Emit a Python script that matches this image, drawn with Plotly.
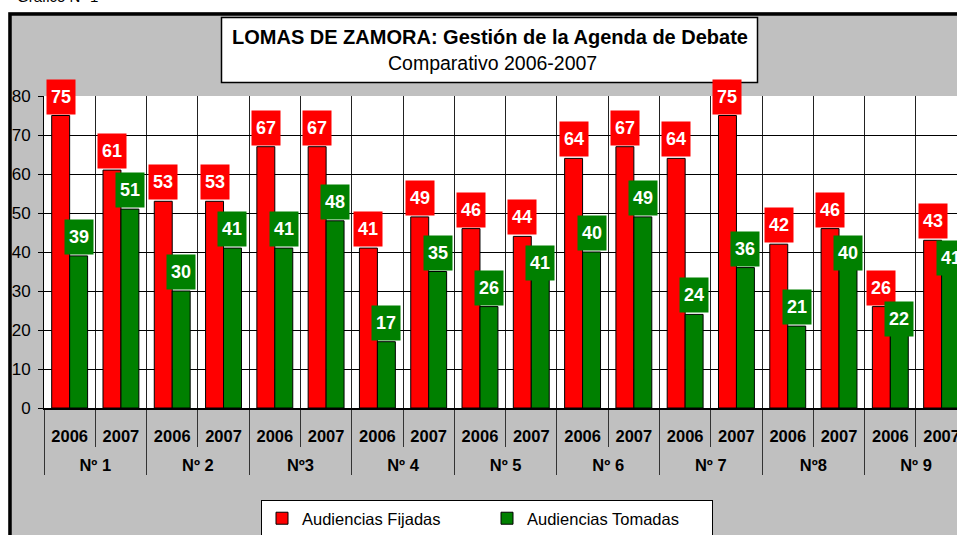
import plotly.graph_objects as go

groups = ["Nº 1", "Nº 2", "Nº3", "Nº 4", "Nº 5", "Nº 6", "Nº 7", "Nº8", "Nº 9"]
years = ["2006", "2007"]
fijadas = [75, 61, 53, 53, 67, 67, 41, 49, 46, 44, 64, 67, 64, 75, 42, 46, 26, 43]
tomadas = [39, 51, 30, 41, 41, 48, 17, 35, 26, 41, 40, 49, 24, 36, 21, 40, 22, 41]
yticks = [0, 10, 20, 30, 40, 50, 60, 70, 80]

# pixel nudges of the green value labels that were moved away from the red ones
green_label_nudge = {9: -34, 15: -20, 16: -16, 17: -29}

outer = [g for g in groups for _ in years]
inner = [y for _ in groups for y in years]
outer_txt = [" <br>" + g for g in outer]

W, H = 957, 535
L, R, T, B = 44, 0, 96, 127
PW, PH = W - L - R, H - T - B
def px2x(px):
    return (px - L) / PW
def py2y(py):
    return (H - B - py) / PH

FONT = "Liberation Sans, Arial, sans-serif"
RED, GREEN = "#FF0000", "#008000"

fig = go.Figure()
fig.add_trace(go.Bar(x=[outer_txt, inner], y=fijadas, name="Audiencias Fijadas",
                     marker=dict(color=RED, line=dict(color="black", width=1))))
fig.add_trace(go.Bar(x=[outer_txt, inner], y=tomadas, name="Audiencias Tomadas",
                     marker=dict(color=GREEN, line=dict(color="black", width=1))))

xmax = 17.3
catw = PW / (xmax + 0.5)
bargap = 0.3
off = (1 - bargap) / 4 * catw

for i, (a, b) in enumerate(zip(fijadas, tomadas)):
    for v, col, sh, ys in ((a, RED, -off, 1), (b, GREEN, off, 1 + green_label_nudge.get(i, 0))):
        fig.add_annotation(x=i, y=v, xref="x", yref="y", text=f"<b>{v}</b>",
                           showarrow=False, xshift=sh, yshift=ys, yanchor="bottom",
                           xanchor="center",
                           bgcolor=col, width=28, height=34, borderpad=0,
                           font=dict(family=FONT, size=18, color="white"))

# title
fig.add_annotation(x=px2x(490), y=py2y(37), xref="paper", yref="paper",
                   xanchor="center", yanchor="middle",
                   text="<b>LOMAS DE ZAMORA: Gestión de la Agenda de Debate</b>",
                   showarrow=False, font=dict(family=FONT, size=20, color="black"))
fig.add_annotation(x=px2x(492), y=py2y(63), xref="paper", yref="paper",
                   xanchor="center", yanchor="middle",
                   text="Comparativo 2006-2007",
                   showarrow=False, font=dict(family=FONT, size=19.5, color="black"))
fig.add_annotation(x=px2x(15), y=py2y(7), xref="paper", yref="paper", xanchor="left",
                   yanchor="bottom", text="Gráfico Nº 1", showarrow=False,
                   font=dict(family=FONT, size=15, color="black"))

shapes = [
    dict(type="rect", xref="paper", yref="paper", x0=px2x(-50), x1=px2x(1100),
         y0=py2y(12), y1=py2y(-60), fillcolor="white", line_width=0, layer="below"),
    dict(type="rect", xref="paper", yref="paper", x0=px2x(-50), x1=px2x(8.3),
         y0=py2y(-60), y1=py2y(700), fillcolor="white", line_width=0, layer="below"),
    dict(type="rect", xref="paper", yref="paper", x0=px2x(10), x1=px2x(1100),
         y0=py2y(14), y1=py2y(700), line=dict(color="black", width=3.5), layer="below"),
    dict(type="rect", xref="paper", yref="paper", x0=px2x(221.5), x1=px2x(757.5),
         y0=py2y(17.5), y1=py2y(82.5), fillcolor="white",
         line=dict(color="black", width=1.5), layer="below"),
]

fig.update_layout(
    width=W, height=H, margin=dict(l=L, r=R, t=T, b=B, pad=0, autoexpand=False),
    paper_bgcolor="#C0C0C0", plot_bgcolor="white",
    barmode="group", bargap=bargap, bargroupgap=0,
    font=dict(family=FONT, size=17, color="black"),
    shapes=shapes,
    showlegend=True,
    legend=dict(orientation="h", x=px2x(487), xanchor="center", y=py2y(500), yanchor="top",
                bgcolor="white", bordercolor="black", borderwidth=1,
                font=dict(family=FONT, size=16.5), entrywidth=180, itemwidth=30),
    xaxis=dict(type="multicategory", range=[-0.5, xmax], showgrid=True, gridcolor="#222",
               gridwidth=1, tickson="boundaries", ticks="outside", ticklen=37,
               ticklabelstandoff=12,
               tickcolor="#333", showdividers=True, dividercolor="#333", dividerwidth=1,
               showline=True, linecolor="black", linewidth=1.5,
               tickfont=dict(family=FONT, size=16.5, color="black", weight="bold")),
    yaxis=dict(range=[0, 80], tickvals=yticks, showgrid=True, gridcolor="black", gridwidth=1,
               ticks="outside", ticklen=5, tickcolor="black", showline=True,
               linecolor="black", linewidth=1, zeroline=False, ticklabelstandoff=4,
               tickfont=dict(family=FONT, size=17, color="black")),
)

fig.write_html("out.html", config={"displayModeBar": False},
               post_script="document.body.style.margin='0px';document.body.style.overflow='hidden';")
